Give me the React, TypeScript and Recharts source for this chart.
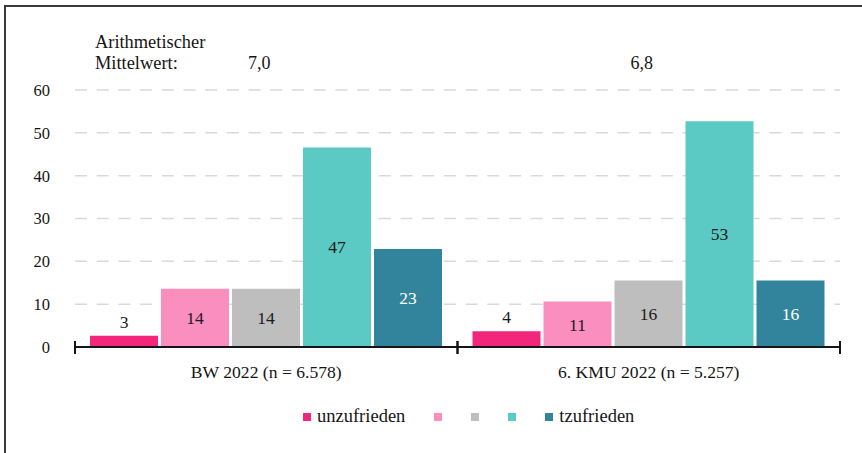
import React from 'react';
import { BarChart, Bar, XAxis, YAxis, CartesianGrid, LabelList, Legend } from 'recharts';

const categories = ['BW 2022 (n = 6.578)', '6. KMU 2022 (n = 5.257)'];
const means = ['7,0', '6,8'];
const unzufrieden = [2.6, 3.7];
const stufe2 = [13.6, 10.6];
const stufe3 = [13.6, 15.5];
const stufe4 = [46.6, 52.7];
const zufrieden = [22.9, 15.5];
const yTicks = [0, 10, 20, 30, 40, 50, 60];
const meanTitle = ['Arithmetischer', 'Mittelwert:'];

const seriesKeys = ['s1', 's2', 's3', 's4', 's5'];
const seriesNames = ['unzufrieden', '', '', '', 'tzufrieden'];
const seriesColors = ['#F2277C', '#FA8EBF', '#BEBEBE', '#5BC9C4', '#31849B'];
const labelColors = ['#1a1a1a', '#1a1a1a', '#1a1a1a', '#1a1a1a', '#ffffff'];

const data = categories.map((name, i) => ({
  name,
  mean: means[i],
  s1: unzufrieden[i],
  s2: stufe2[i],
  s3: stufe3[i],
  s4: stufe4[i],
  s5: zufrieden[i],
}));

const TEXT = '#151515';
const FONT = 'Liberation Serif, DejaVu Serif, serif';

const halfBand = (props: any) => {
  const p = props.payload;
  if (p && typeof p.offset === 'number' && p.offset > 0) return p.offset;
  return props.width / (2 * (props.visibleTicksCount || categories.length));
};

const BottomTick = (props: any) => {
  const { x, y, payload } = props;
  const off = halfBand(props);
  return (
    <g>
      <line x1={x - off} x2={x - off} y1={y - 6} y2={y + 7} stroke={TEXT} strokeWidth={2} />
      <line x1={x + off} x2={x + off} y1={y - 6} y2={y + 7} stroke={TEXT} strokeWidth={2} />
      <text x={x} y={y + 31} textAnchor="middle" fill={TEXT} style={{ fontSize: 17.6, fontFamily: FONT }}>
        {payload.value}
      </text>
    </g>
  );
};

const TopTick = (props: any) => {
  const { x, y, payload, index } = props;
  const off = halfBand(props);
  return (
    <g>
      {index === 0 && (
        <text x={x - off + 20} fill={TEXT} style={{ fontSize: 18.4, fontFamily: FONT }}>
          <tspan x={x - off + 20} y={y - 42}>{meanTitle[0]}</tspan>
          <tspan x={x - off + 20} y={y - 21}>{meanTitle[1]}</tspan>
        </text>
      )}
      <text x={x - 7} y={y - 21} textAnchor="middle" fill={TEXT} style={{ fontSize: 18, fontFamily: FONT }}>
        {payload.value}
      </text>
    </g>
  );
};

const LegendContent = () => (
  <div style={{ display: 'flex', alignItems: 'center', fontFamily: FONT, fontSize: 18.5, color: TEXT, whiteSpace: 'nowrap' }}>
    {seriesNames.map((n, i) => (
      <div key={i} style={{ display: 'flex', alignItems: 'center', marginRight: 29 }}>
        <span style={{ display: 'inline-block', width: 8, height: 8, background: seriesColors[i], marginRight: n ? 6 : 0 }} />
        {n && <span>{n}</span>}
      </div>
    ))}
  </div>
);

export default function App() {
  return (
    <div style={{ position: 'absolute', left: 0, top: 0, width: 862, height: 453, background: '#fff', fontFamily: FONT }}>
      <div style={{ position: 'absolute', left: 4, top: 5, width: 858, height: 1.5, background: '#3a3a3a' }} />
      <div style={{ position: 'absolute', left: 4, top: 5, width: 1.5, height: 448, background: '#3a3a3a' }} />
      <BarChart
        width={862}
        height={453}
        data={data}
        margin={{ top: 40, right: 22, bottom: 66, left: 0 }}
        barCategoryGap={15}
        barGap={3}
        style={{ fontFamily: FONT }}
      >
        <CartesianGrid vertical={false} stroke="#d9d9d9" strokeWidth={1.5} strokeDasharray="12 9.7" />
        <XAxis
          xAxisId="cat"
          dataKey="name"
          orientation="bottom"
          height={40}
          axisLine={{ stroke: TEXT, strokeWidth: 2 }}
          tickLine={false}
          tickSize={0}
          tickMargin={0}
          tick={<BottomTick />}
          interval={0}
        />
        <XAxis
          xAxisId="mean"
          dataKey="mean"
          orientation="top"
          height={50}
          axisLine={false}
          tickLine={false}
          tickSize={0}
          tickMargin={0}
          tick={<TopTick />}
          interval={0}
        />
        <YAxis
          width={75}
          domain={[0, 60]}
          ticks={yTicks}
          axisLine={false}
          tickLine={false}
          tickSize={0}
          tickMargin={25}
          tick={{ fill: TEXT, fontSize: 16.5, style: { fontFamily: FONT } }}
          interval={0}
        />
        <Legend
          layout="horizontal"
          verticalAlign="middle"
          align="center"
          content={<LegendContent />}
          wrapperStyle={{ left: 303, top: 406, width: 450 }}
        />
        {seriesKeys.map((k, i) => (
          <Bar
            key={k}
            xAxisId="cat"
            dataKey={k}
            name={seriesNames[i] || ' '}
            fill={seriesColors[i]}
            isAnimationActive={false}
          >
            <LabelList
              dataKey={k}
              position={i === 0 ? 'top' : 'center'}
              offset={8}
              formatter={(v: any) => Math.round(Number(v))}
              fill={labelColors[i]}
              style={{ fontSize: 17.5, fontFamily: FONT }}
            />
          </Bar>
        ))}
      </BarChart>
    </div>
  );
}
